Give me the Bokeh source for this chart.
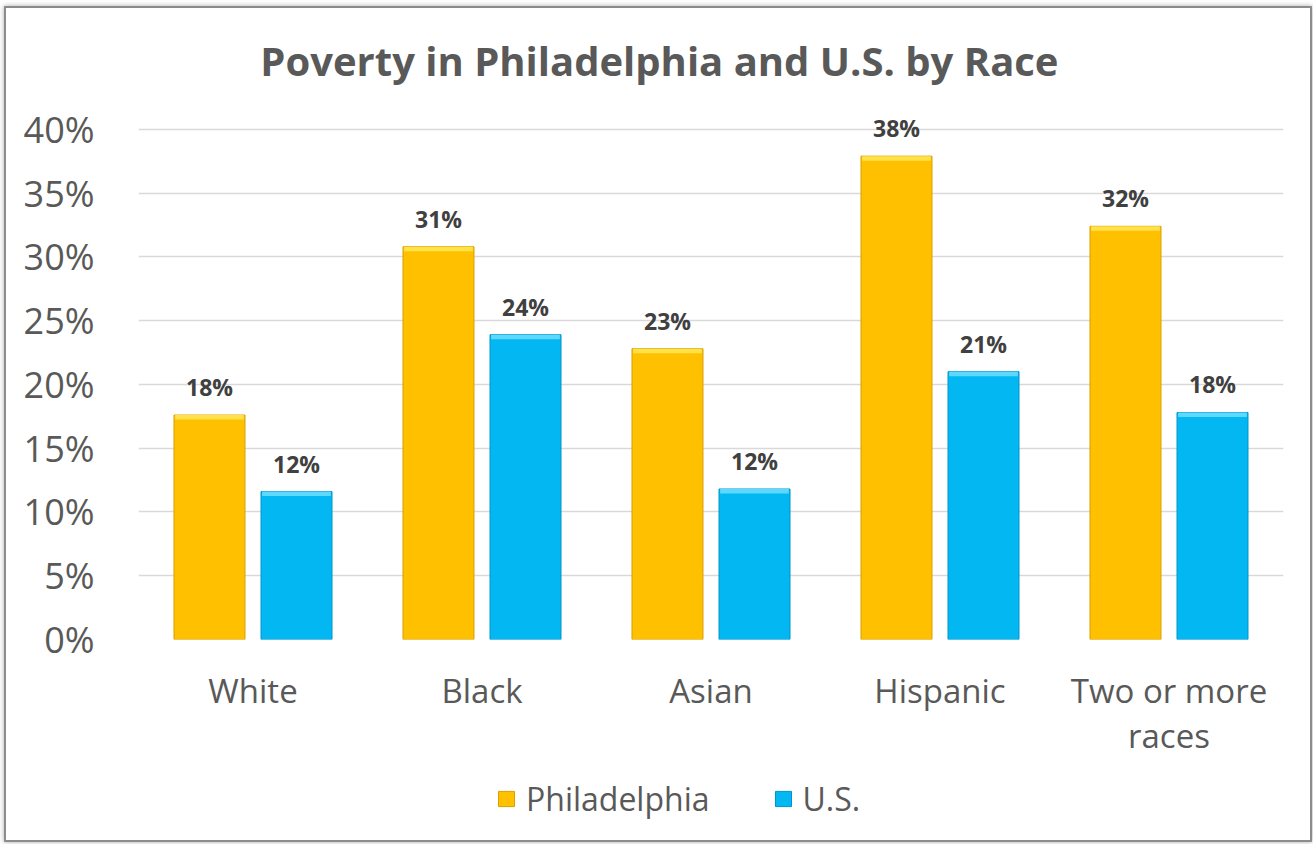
from bokeh.plotting import figure
from bokeh.layouts import column
from bokeh.models import ColumnDataSource, FactorRange, Legend, LegendItem, FixedTicker, Title
from bokeh.transform import dodge
from bokeh.core.properties import value
from bokeh.embed import file_html
from bokeh.resources import INLINE

categories = ["White", "Black", "Asian", "Hispanic", "Two or more\nraces"]
philadelphia = [17.6, 30.8, 22.8, 37.9, 32.4]
us = [11.6, 23.9, 11.8, 21.0, 17.8]
y_ticks = [0, 5, 10, 15, 20, 25, 30, 35, 40]
series = ["Philadelphia", "U.S."]

FONT = "Open Sans"
W, H, HL = 1304, 770, 62
PHL_FILL, PHL_LINE, PHL_TOP = "#FFC000", "#D9A000", "#FFE14A"
US_FILL, US_LINE, US_TOP = "#03B8F2", "#0095C8", "#5FD8FF"

src = ColumnDataSource(dict(
    cat=categories,
    phl=philadelphia,
    us=us,
    phl_top=[v - 0.35 for v in philadelphia],
    us_top=[v - 0.35 for v in us],
    phl_lbl=[f"{round(v):d}%" for v in philadelphia],
    us_lbl=[f"{round(v):d}%" for v in us],
))

p = figure(width=W, height=H, x_range=FactorRange(factors=categories, range_padding=0),
           y_range=(0, 42.5), output_backend="svg", toolbar_location=None, title=None,
           min_border_left=132, min_border_right=27, min_border_top=89, min_border_bottom=139)
p.background_fill_color = "white"
p.border_fill_color = "white"
p.outline_line_color = None

OFF = 0.19
BW = 0.31
p.vbar(x=dodge("cat", -OFF, range=p.x_range), top="phl", width=BW, source=src,
       fill_color=PHL_FILL, line_color=PHL_LINE, line_width=1)
p.vbar(x=dodge("cat", -OFF, range=p.x_range), top="phl", bottom="phl_top", width=BW - 0.01, source=src,
       fill_color=PHL_TOP, line_color=None)
p.vbar(x=dodge("cat", OFF, range=p.x_range), top="us", width=BW, source=src,
       fill_color=US_FILL, line_color=US_LINE, line_width=1)
p.vbar(x=dodge("cat", OFF, range=p.x_range), top="us", bottom="us_top", width=BW - 0.01, source=src,
       fill_color=US_TOP, line_color=None)

p.text(x=dodge("cat", -OFF, range=p.x_range), y="phl", text="phl_lbl", source=src,
       text_font=value(FONT), text_font_style="bold", text_font_size="23px",
       text_color="#404040", text_align="center", text_baseline="middle", y_offset=-28)
p.text(x=dodge("cat", OFF, range=p.x_range), y="us", text="us_lbl", source=src,
       text_font=value(FONT), text_font_style="bold", text_font_size="23px",
       text_color="#404040", text_align="center", text_baseline="middle", y_offset=-28)

# axes
p.yaxis.ticker = FixedTicker(ticks=y_ticks)
p.yaxis.major_label_overrides = {t: f"{t}%" for t in y_ticks}
for ax in (p.xaxis[0], p.yaxis[0]):
    ax.axis_line_color = None
    ax.major_tick_line_color = None
    ax.minor_tick_line_color = None
    ax.major_label_text_font = FONT
    ax.major_label_text_color = "#595959"
p.yaxis.major_label_text_font_size = "36px"
p.yaxis.major_label_standoff = 38
p.xaxis.major_label_text_font_size = "33px"
p.xaxis.major_label_standoff = 22
p.xaxis.major_label_text_line_height = 1.0
p.xaxis.major_label_orientation = "horizontal"
p.xgrid.grid_line_color = None
p.ygrid.grid_line_color = "#D9D9D9"
p.ygrid.grid_line_width = 1.5

title = Title(text="Poverty in Philadelphia and U.S. by Race", text_font=FONT,
              text_font_style="bold", text_font_size="40px", text_color="#595959",
              align="right", offset=225, standoff=20)
p.add_layout(title, "above")

# legend strip below the chart (legend swatches use the series colours)
pl = figure(width=W, height=HL, x_range=(0, 1), y_range=(0, 1), output_backend="svg",
            toolbar_location=None, min_border=0)
pl.axis.visible = False
pl.grid.visible = False
pl.outline_line_color = None
pl.background_fill_color = "white"
pl.border_fill_color = "white"
leg_src = ColumnDataSource(dict(x=[-5.0], top=[-5.0]))
g1 = pl.vbar(x="x", top="top", width=0.1, source=leg_src, fill_color=PHL_FILL, line_color=PHL_LINE)
g2 = pl.vbar(x="x", top="top", width=0.1, source=leg_src, fill_color=US_FILL, line_color=US_LINE)
legend = Legend(items=[LegendItem(label=series[0], renderers=[g1]),
                       LegendItem(label=series[1], renderers=[g2])],
                orientation="horizontal", location=(358, 20),
                label_text_font=FONT, label_text_font_size="32px", label_text_color="#595959",
                glyph_width=20, glyph_height=19, label_standoff=10, spacing=63,
                padding=0, margin=0,
                border_line_color=None, background_fill_alpha=0)
pl.add_layout(legend, "center")

layout = column(p, pl, spacing=0)
layout.styles = {"margin-left": "6px", "margin-top": "8px",
                 "box-shadow": "0 0 0 2px #8c8c8c, 0 0 5px 2px #aaaaaa"}

open("out.html", "w").write(file_html(layout, INLINE))
